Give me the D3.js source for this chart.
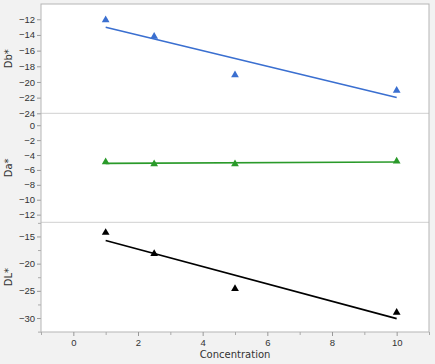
<!DOCTYPE html>
<html><head><meta charset="utf-8">
<script src="https://cdn.jsdelivr.net/npm/d3@7"></script>
<style>
html,body{margin:0;padding:0;background:#f2f2f2;}
svg{display:block;font-family:"DejaVu Sans",sans-serif;}
</style></head><body>
<svg id="c" width="435" height="364"></svg>
<script>
const concentration = [1, 2.5, 5, 10];
const dbValues = [-12.1, -14.2, -19.1, -21.1];
const daValues = [-4.93, -5.2, -5.2, -4.84];
const dlValues = [-14.3, -18.2, -24.6, -29.0];
const xTicks = [0, 2, 4, 6, 8, 10];
const dbTicks = [-12, -14, -16, -18, -20, -22, -24];
const daTicks = [0, -2, -4, -6, -8, -10, -12];
const dlTicks = [-15, -20, -25, -30];
const dlMinor = [-17.5, -22.5, -27.5, -32.5, -12.5];
const xMinor = [-1, 1, 3, 5, 7, 9, 11];

const svg = d3.select("#c");
const L = 41, R = 429, T = 4, B = 332;
const x = d3.scaleLinear().domain([-1, 11]).range([L, R]);

const panels = [
  {label:"Db*", vals:dbValues, ticks:dbTicks, minor:[], dom:[-24,-10.05], top:4, bot:113.3, color:"#3a6fd0"},
  {label:"Da*", vals:daValues, ticks:daTicks, minor:[], dom:[-13.03,1.6], top:113.3, bot:222.3, color:"#2a9a2a"},
  {label:"DL*", vals:dlValues, ticks:dlTicks, minor:dlMinor, dom:[-32.57,-12.4], top:222.3, bot:332, color:"#000000"}
];

svg.append("rect").attr("x",L).attr("y",T).attr("width",R-L).attr("height",B-T).attr("fill","#fff");

function fit(xs, ys){
  const mx=d3.mean(xs), my=d3.mean(ys);
  let sxy=0,sxx=0;
  xs.forEach((v,i)=>{sxy+=(v-mx)*(ys[i]-my); sxx+=(v-mx)*(v-mx);});
  const b=sxy/sxx, a=my-b*mx;
  return v=>a+b*v;
}

panels.forEach((p,pi)=>{
  const y = d3.scaleLinear().domain(p.dom).range([p.bot, p.top]);
  const ax = svg.append("g").attr("transform",`translate(${L},0)`)
    .call(d3.axisLeft(y).tickValues(p.ticks).tickSize(4).tickPadding(2).tickFormat(d3.format("d")));
  ax.select(".domain").remove();
  ax.selectAll("line").attr("stroke","#999");
  ax.selectAll("text").attr("fill","#333").style("font-size","9.5px");
  if(p.minor.length){
    const mg = svg.append("g").attr("transform",`translate(${L},0)`)
      .call(d3.axisLeft(y).tickValues(p.minor.filter(v=>v>=p.dom[0]&&v<=p.dom[1])).tickSize(3).tickFormat(""));
    mg.select(".domain").remove();
    mg.selectAll("line").attr("stroke","#aaa");
  }
  svg.append("text").attr("transform",`translate(12,${(p.top+p.bot)/2}) rotate(-90)`)
    .attr("text-anchor","middle").attr("fill","#333").style("font-size","10px").text(p.label);
  if(pi>0){
    svg.append("line").attr("x1",L).attr("x2",R).attr("y1",p.top).attr("y2",p.top).attr("stroke","#d0d0d0");
  }
  const f = fit(concentration, p.vals);
  const xr = d3.extent(concentration);
  svg.append("line").attr("x1",x(xr[0])).attr("x2",x(xr[1]))
    .attr("y1",y(f(xr[0]))).attr("y2",y(f(xr[1])))
    .attr("stroke",p.color).attr("stroke-width",1.6);
  svg.append("g").selectAll("path").data(concentration).join("path")
    .attr("d",d3.symbol().type(d3.symbolTriangle).size(26))
    .attr("transform",(d,i)=>`translate(${x(d)},${y(p.vals[i])})`)
    .attr("fill",p.color);
});

svg.append("rect").attr("x",L).attr("y",T).attr("width",R-L).attr("height",B-T)
  .attr("fill","none").attr("stroke","#b5b5b5");

const xa = svg.append("g").attr("transform",`translate(0,${B})`)
  .call(d3.axisBottom(x).tickValues(xTicks).tickSize(4).tickPadding(3).tickFormat(d3.format("d")));
xa.select(".domain").remove();
xa.selectAll("line").attr("stroke","#999");
xa.selectAll("text").attr("fill","#333").style("font-size","9.5px");
const xm = svg.append("g").attr("transform",`translate(0,${B})`)
  .call(d3.axisBottom(x).tickValues(xMinor).tickSize(3).tickFormat(""));
xm.select(".domain").remove();
xm.selectAll("line").attr("stroke","#aaa");

svg.append("text").attr("x",(L+R)/2).attr("y",358).attr("text-anchor","middle")
  .attr("fill","#333").style("font-size","10px").text("Concentration");
</script>
</body></html>
